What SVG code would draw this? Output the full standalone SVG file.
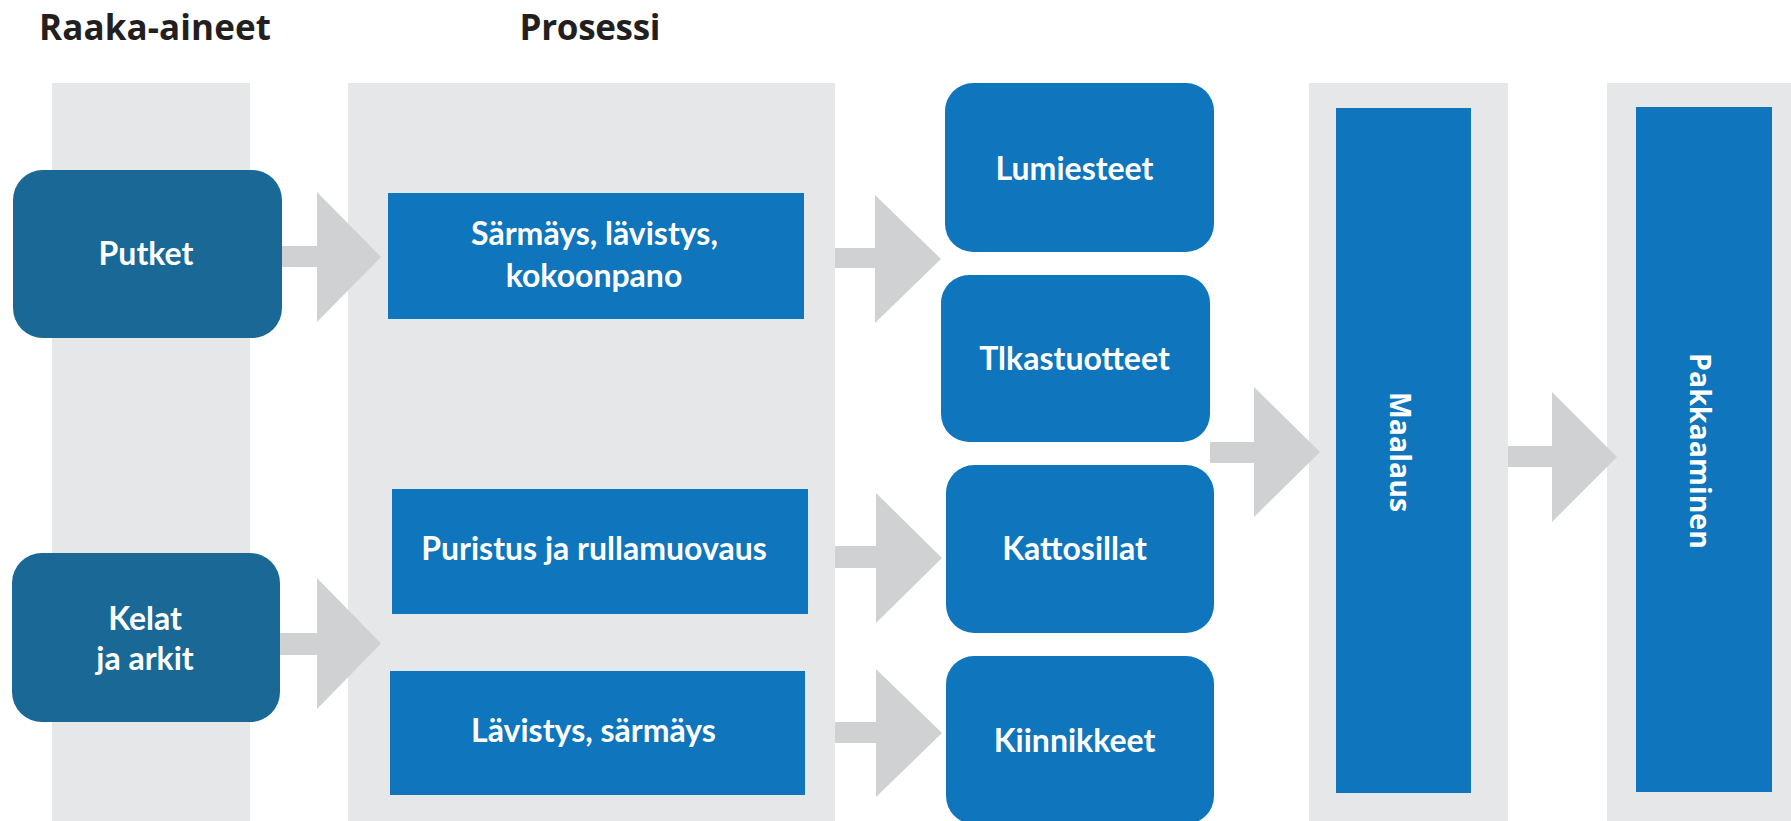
<svg xmlns="http://www.w3.org/2000/svg" width="1791" height="821" viewBox="0 0 1791 821">
<style>
.col{fill:#e6e7e8}
.arrow{fill:#d0d1d3}
.raw{fill:#196895}
.box{fill:#0f75bc}
.lbl{font-family:Lato,"Open Sans","Liberation Sans",sans-serif;font-weight:700;font-size:32px;fill:#ffffff;text-anchor:middle}
.title{font-family:"Open Sans",Lato,"Liberation Sans",sans-serif;font-weight:700;font-size:35px;fill:#231f20;text-anchor:middle}
.vlbl{font-family:"Open Sans",Lato,"Liberation Sans",sans-serif;font-weight:700;font-size:28.5px;fill:#ffffff;text-anchor:middle}
</style>
<rect width="1791" height="821" fill="#ffffff"/>
<g id="columns">
<rect class="col" x="52" y="83" width="198" height="738"/>
<rect class="col" x="348" y="83" width="487" height="738"/>
<rect class="col" x="1309" y="83" width="199" height="738"/>
<rect class="col" x="1607" y="83" width="184" height="738"/>
</g>
<g id="titles">
<text class="title" x="155" y="40" textLength="232">Raaka-aineet</text>
<text class="title" x="590" y="40" textLength="141">Prosessi</text>
</g>
<g id="connectors">
<polygon class="arrow" points="282,246 317,246 317,192 381,257 317,322 317,267 282,267"/>
<polygon class="arrow" points="280,633 317,633 317,578 381,643.5 317,709 317,655 280,655"/>
<polygon class="arrow" points="835,248 875,248 875,195 941,259 875,323 875,268 835,268"/>
<polygon class="arrow" points="835,546 876,546 876,493 942,558 876,623 876,568 835,568"/>
<polygon class="arrow" points="835,722 876,722 876,669 942,733 876,797 876,743 835,743"/>
<polygon class="arrow" points="1210,442 1254,442 1254,387 1320,452 1254,517 1254,463 1210,463"/>
<polygon class="arrow" points="1508,446 1552,446 1552,392 1617,457 1552,522 1552,467 1508,467"/>
</g>
<g id="putket">
<rect class="raw" x="13" y="170" width="269" height="168" rx="30" ry="30"/>
<text class="lbl" x="146" y="265">Putket</text>
</g>
<g id="kelat">
<rect class="raw" x="12" y="553" width="268" height="169" rx="30" ry="30"/>
<text class="lbl" x="145" y="630">Kelat</text>
<text class="lbl" x="145" y="670">ja arkit</text>
</g>
<g id="sarmays">
<rect class="box" x="388" y="193" width="416" height="126"/>
<text class="lbl" x="594.5" y="245">Särmäys, lävistys,</text>
<text class="lbl" x="594" y="287">kokoonpano</text>
</g>
<g id="puristus">
<rect class="box" x="392" y="489" width="416" height="125"/>
<text class="lbl" x="594" y="560">Puristus ja rullamuovaus</text>
</g>
<g id="lavistys">
<rect class="box" x="390" y="671" width="415" height="124"/>
<text class="lbl" x="593.5" y="742">Lävistys, särmäys</text>
</g>
<g id="lumiesteet">
<rect class="box" x="945" y="83" width="269" height="169" rx="28" ry="28"/>
<text class="lbl" x="1074.5" y="180">Lumiesteet</text>
</g>
<g id="tlkastuotteet">
<rect class="box" x="941" y="275" width="269" height="167" rx="28" ry="28"/>
<text class="lbl" x="1074.5" y="370">Tlkastuotteet</text>
</g>
<g id="kattosillat">
<rect class="box" x="946" y="465" width="268" height="168" rx="28" ry="28"/>
<text class="lbl" x="1074.5" y="560">Kattosillat</text>
</g>
<g id="kiinnikkeet">
<rect class="box" x="946" y="656" width="268" height="168" rx="28" ry="28"/>
<text class="lbl" x="1074.5" y="752">Kiinnikkeet</text>
</g>
<g id="maalaus">
<rect class="box" x="1336" y="108" width="135" height="685"/>
<text class="vlbl" transform="translate(1390,452) rotate(90)" x="0" y="0">Maalaus</text>
</g>
<g id="pakkaaminen">
<rect class="box" x="1636" y="107" width="136" height="685"/>
<text class="vlbl" transform="translate(1690,451) rotate(90)" x="0" y="0">Pakkaaminen</text>
</g>
</svg>
